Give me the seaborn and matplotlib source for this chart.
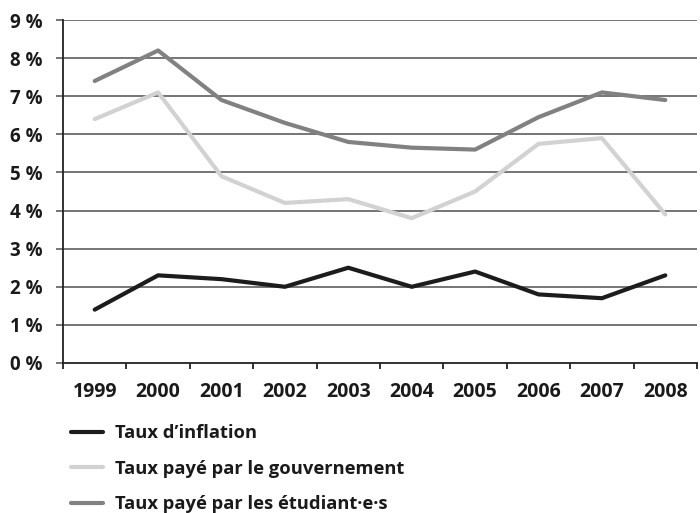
import matplotlib
matplotlib.use("Agg")
import matplotlib.pyplot as plt
import seaborn as sns
import pandas as pd
import numpy as np

years = ["1999", "2000", "2001", "2002", "2003", "2004", "2005", "2006", "2007", "2008"]
inflation = [1.4, 2.3, 2.2, 2.0, 2.5, 2.0, 2.4, 1.8, 1.7, 2.3]
gouvernement = [6.4, 7.1, 4.9, 4.2, 4.3, 3.8, 4.5, 5.75, 5.9, 3.9]
etudiants = [7.4, 8.2, 6.9, 6.3, 5.8, 5.65, 5.6, 6.45, 7.1, 6.9]

series_names = ["Taux d\u2019inflation",
                "Taux payé par le gouvernement",
                "Taux payé par les étudiant\u00b7e\u00b7s"]
series_colors = ["#1c1c1c", "#d2d2d2", "#818181"]
y_ticks = [0, 1, 2, 3, 4, 5, 6, 7, 8, 9]

df = pd.DataFrame({
    "annee": years * 3,
    "taux": inflation + gouvernement + etudiants,
    "serie": [series_names[0]] * 10 + [series_names[1]] * 10 + [series_names[2]] * 10,
})

sns.set_theme(style="white")
plt.rcParams["font.family"] = ["Open Sans", "DejaVu Sans"]
plt.rcParams["font.weight"] = "bold"

fig = plt.figure(figsize=(7.0, 5.13), dpi=100)
ax = fig.add_axes([63 / 700, 1 - 363 / 513, 634 / 700, 343 / 513])

# horizontal grid drawn behind the series
for v in y_ticks[1:]:
    ax.axhline(v, color="#6a6a6a", lw=1.3, zorder=0)

sns.lineplot(data=df, x="annee", y="taux", hue="serie", hue_order=series_names,
             palette=series_colors, linewidth=3.0, sort=False, ax=ax, legend=False,
             zorder=3)

ax.set_xlim(-0.5, len(years) - 0.5)
ax.set_ylim(0, 9)
ax.set_yticks(y_ticks)
ax.set_yticklabels([f"{v} %" for v in y_ticks])
ax.set_xticks(np.arange(len(years)))
ax.set_xticklabels(years)
ax.set_xticks(np.arange(len(years) + 1) - 0.5, minor=True)
ax.set_xlabel("")
ax.set_ylabel("")

for s in ["top", "right"]:
    ax.spines[s].set_visible(False)
for s in ["left", "bottom"]:
    ax.spines[s].set_color("#222222")
    ax.spines[s].set_linewidth(1.3)

ax.tick_params(axis="y", which="major", left=True, length=5, width=1.3,
               color="#6a6a6a", pad=10, labelsize=13.5)
ax.tick_params(axis="x", which="major", bottom=False, pad=8, labelsize=14)
ax.tick_params(axis="x", which="minor", bottom=True, length=4, width=1.3,
               color="#222222")
for lab in ax.get_xticklabels() + ax.get_yticklabels():
    lab.set_fontweight("bold")
    lab.set_color("#1a1a1a")

handles = [plt.Line2D([], [], color=c, lw=3.0) for c in series_colors]
fig.legend(handles, series_names, loc="upper left",
           bbox_to_anchor=(71 / 700, 1 - 424 / 513), frameon=False,
           borderpad=0, borderaxespad=0,
           handlelength=1.75, handletextpad=0.65, labelspacing=0.96,
           prop={"weight": "bold", "size": 13.2}, labelcolor="#1a1a1a")

fig.savefig("out.png", dpi=100)
